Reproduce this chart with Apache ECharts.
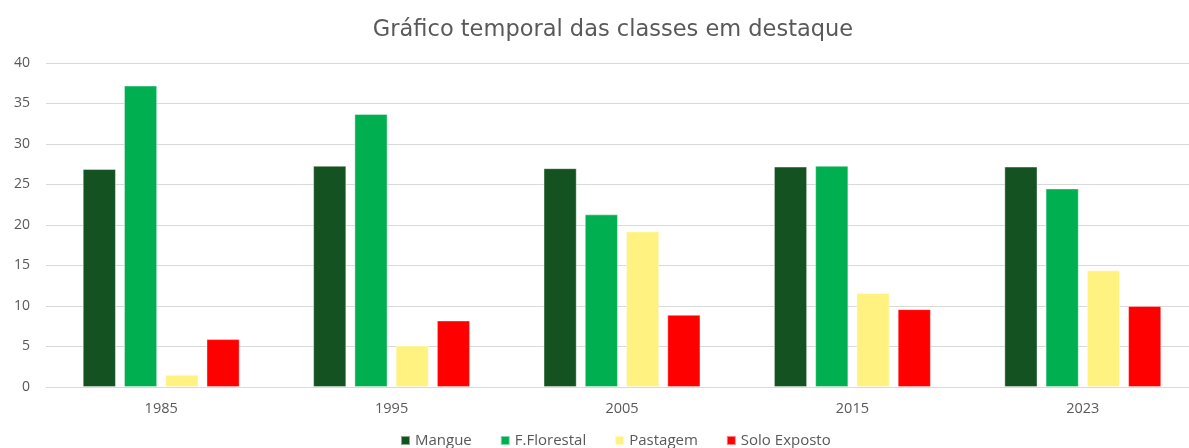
<!DOCTYPE html>
<html><head><meta charset="utf-8">
<script src="https://cdn.jsdelivr.net/npm/echarts@6/dist/echarts.min.js"></script>
<style>html,body{margin:0;padding:0;background:#fff}#c{width:1189px;height:448px}</style>
</head><body><div id="c"></div>
<script>
const categories = ['1985','1995','2005','2015','2023'];
const mangue = [26.9, 27.3, 27.0, 27.2, 27.2];
const florestal = [37.2, 33.7, 21.3, 27.3, 24.5];
const pastagem = [1.5, 5.1, 19.2, 11.6, 14.4];
const solo = [5.9, 8.2, 8.9, 9.6, 10.0];
const seriesNames = ['Mangue','F.Florestal','Pastagem','Solo Exposto'];
const colors = ['#155221','#00B050','#FFF280','#FF0000'];
const yTicks = {min:0, max:40, interval:5};

const font = '"Open Sans", "Liberation Sans", sans-serif';
const chart = echarts.init(document.getElementById('c'));
const mk = (name, data, i) => ({
  name, type:'bar', data, barWidth:33, barGap:'25%',
  itemStyle:{color:colors[i], borderColor:'rgba(255,255,255,0.5)', borderWidth:0.8},
  emphasis:{disabled:true}
});
chart.setOption({
  animation:false,
  title:{text:'Gráfico temporal das classes em destaque', left:608, textAlign:'center', top:14,
    textStyle:{fontFamily:'"DejaVu Sans", sans-serif', fontSize:22.5, fontWeight:'normal', color:'#595959'}},
  legend:{bottom:-5, left:395, itemWidth:9, itemHeight:9, itemGap:28, icon:'rect',
    textStyle:{fontFamily:font, fontSize:15, color:'#595959'}, data:seriesNames},
  grid:{left:46, width:1152, top:63, bottom:61, outerBoundsMode:'none', containLabel:false},
  xAxis:{type:'category', data:categories,
    axisLine:{lineStyle:{color:'#D9D9D9', width:1}}, axisTick:{show:false},
    axisLabel:{fontFamily:font, fontSize:14.5, color:'#595959', margin:14}},
  yAxis:{type:'value', min:yTicks.min, max:yTicks.max, interval:yTicks.interval,
    axisLine:{show:false}, axisTick:{show:false},
    splitLine:{lineStyle:{color:'#D9D9D9', width:1}},
    axisLabel:{fontFamily:font, fontSize:14, color:'#595959', margin:16}},
  series:[mk(seriesNames[0],mangue,0), mk(seriesNames[1],florestal,1), mk(seriesNames[2],pastagem,2), mk(seriesNames[3],solo,3)]
});
</script></body></html>
